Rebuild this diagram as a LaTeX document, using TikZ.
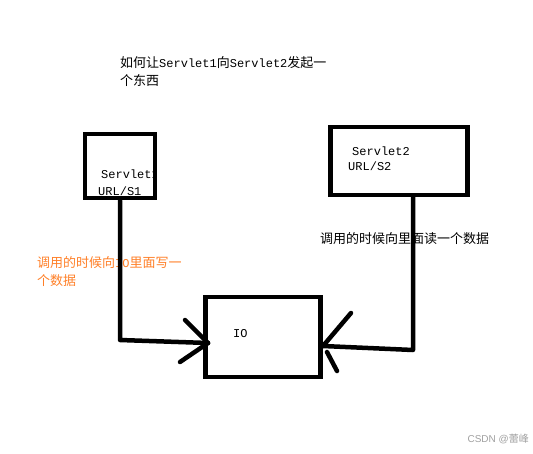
\documentclass[tikz,border=0pt]{standalone}
\usepackage{fontspec}
\setmainfont{Liberation Mono}
\newfontfamily\cjk{Noto Sans CJK SC}
\newfontfamily\wmfont{Liberation Sans}
\definecolor{paintorange}{RGB}{255,127,39}
\definecolor{wmgrey}{RGB}{160,160,160}
\begin{document}
\begin{tikzpicture}[x=1pt,y=-1pt,
  thick box/.style={draw=black,line width=4.5pt,inner sep=0pt,fill=none},
  conn/.style={draw=black,line width=4.5pt,line join=round,line cap=round},
  lbl/.style={inner sep=0pt,anchor=base west,font=\fontsize{12}{18}\selectfont,align=left},
  cjkfont/.style={font=\fontsize{13}{18}\selectfont\cjk}]
\useasboundingbox (0,0) rectangle (533,453);
% title
\node[lbl] (title1) at (120,67) {{\cjk\fontsize{13}{18}\selectfont 如何让}Servlet1{\cjk\fontsize{13}{18}\selectfont 向}Servlet2{\cjk\fontsize{13}{18}\selectfont 发起一}};
\node[lbl,cjkfont] (title2) at (120,85) {个东西};
% box 1 texts (clipped by box)
\begin{scope}
\clip (85,134) rectangle (154,198);
\node[lbl] (s1a) at (101,178) {Servlet1};
\end{scope}
\node[lbl] (s1b) at (98,195) {URL/S1};
\node[thick box,minimum width=70pt,minimum height=64pt] (s1) at (120,166) {};
% box 2
\node[lbl] (s2a) at (352,155) {Servlet2};
\node[lbl] (s2b) at (348,170) {URL/S2};
\node[thick box,minimum width=137pt,minimum height=68pt] (s2) at (399,161) {};
% IO box
\node[thick box,minimum width=115pt,minimum height=80pt] (io) at (263,337) {};
\node[lbl] (iot) at (233,337) {IO};
% labels
\node[lbl,text=paintorange] (w1) at (37,267) {{\cjk\fontsize{13}{18}\selectfont 调用的时候向}IO{\cjk\fontsize{13}{18}\selectfont 里面写一}};
\node[lbl,cjkfont,text=paintorange] (w2) at (37,285) {个数据};
\node[lbl,cjkfont] (r1) at (320,243) {调用的时候向里面读一个数据};
% connectors
\coordinate (c1) at (120,340);
\coordinate (a1) at (208,343);
\draw[conn] (s1.south) -- (c1) -- (a1);
\draw[conn] (a1) -- (185,320);
\draw[conn] (a1) -- (180,362);
\coordinate (b0) at ([xshift=14pt]s2.south);
\coordinate (c2) at (413,350);
\coordinate (a2) at (323,346);
\draw[conn] (b0) -- (c2) -- (a2);
\draw[conn] (a2) -- (351,313);
\draw[conn] (327,352) -- (337,371);
% watermark
\node[inner sep=0pt,anchor=base east,text=wmgrey,font=\fontsize{10}{12}\selectfont\wmfont] (wm) at (529,442) {CSDN @{\cjk 蕾峰}};
\end{tikzpicture}
\end{document}
